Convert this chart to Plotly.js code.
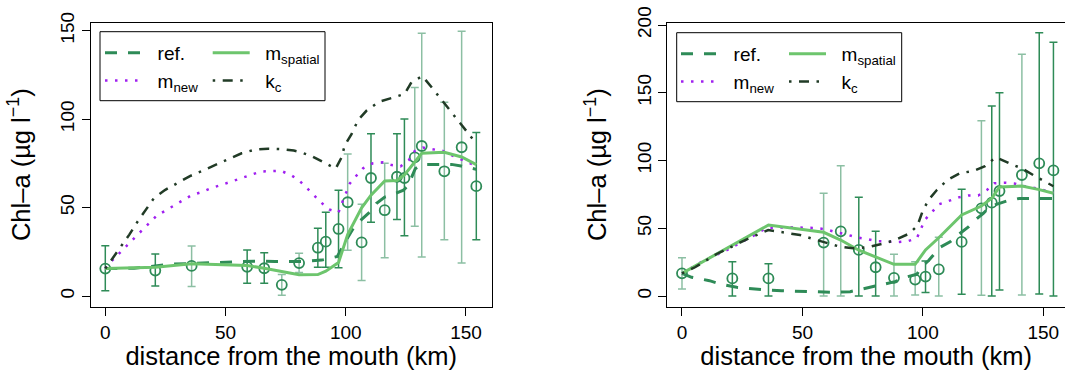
<!DOCTYPE html>
<html><head><meta charset="utf-8">
<script src="https://cdn.plot.ly/plotly-3.0.1.min.js"></script>
<style>html,body{margin:0;padding:0;background:#fff}#chart{width:1065px;height:370px}</style>
</head><body><div id="chart"></div>
<script>
// ---------- Panel A (left) observations ----------
const obsKmA = [0, 20.8, 35.9, 59.0, 66.1, 73.4, 80.6, 88.4, 91.7, 97.0, 100.8, 106.6, 110.5, 116.2, 121.3, 124.4, 128.7, 131.6, 141.0, 148.2, 154.3];
const obsA   = [15.5, 14.4, 17.0, 16.5, 15.7, 6.3, 18.6, 27.3, 30.7, 37.9, 53.0, 30.3, 66.7, 48.5, 67.4, 66.7, 78.4, 84.8, 70.5, 84.1, 62.1];
const obsHiA = [28.4, 23.7, 28.2, 26.0, 24.4, 12.1, 24.2, 38.3, 47.4, 59.8, 80.3, 51.9, 91.7, 75.0, 91.7, 100.0, 117.8, 148.5, 109.5, 149.6, 92.4];
const obsLoA = [3.0, 5.7, 5.3, 7.2, 7.2, 0.4, 13.3, 16.3, 16.3, 15.9, 25.8, 8.7, 41.7, 21.6, 43.2, 34.1, 39.4, 22.0, 31.8, 18.6, 31.8];
const darkIdxA = [0, 1, 3, 4, 7, 8, 9, 12, 14, 15, 20];

// Panel A model lines
const refKmA = [0, 12, 27.6, 44, 52.5, 62, 70.5, 77.4, 82, 90, 96.5, 100.3, 103.8, 110.4, 112.7, 116.2, 119, 124, 126, 128.9, 131.7, 137, 144, 148, 154.3];
const refA   = [15.5, 15.7, 18, 18.9, 19.5, 19.7, 19.5, 19.5, 19.5, 20.3, 22.3, 31.8, 39.8, 47.9, 52.3, 55.9, 57, 59.8, 62.5, 72, 74.4, 74.4, 74.4, 73.5, 71.6];
const mspKmA = [0, 20.8, 35.9, 59.0, 66.1, 73.4, 80.6, 88.4, 91.7, 97.0, 100.8, 106.6, 110.5, 116.2, 121.3, 124.4, 128.7, 131.6, 141.0, 148.2, 154.3];
const mspA   = [15.5, 16.3, 18.2, 17.2, 15.7, 13.8, 12.0, 12.1, 14.0, 18.9, 34.7, 49.8, 57.0, 65.0, 65.3, 68.5, 75.8, 80.7, 81.3, 78.6, 74.3];
const mnewKmA = [0, 2.6, 8.9, 12, 15.1, 17.9, 21.4, 24.8, 28.5, 32, 35.9, 40, 44, 48.1, 52.2, 56.2, 60.4, 64.5, 68.8, 73, 77.4, 80.6, 83.7, 86.7, 89.9, 93.1, 97, 98.5, 101.7, 104.4, 107.2, 111.3, 115.2, 119.2, 122.8, 126.3, 128.7, 132.1, 136.3, 140.4, 144.6, 148.7, 152.6, 154.3];
const mnewA   = [15.5, 19.7, 28.4, 32.6, 36.7, 40.9, 45.5, 48.1, 51.1, 54.2, 57, 58.7, 61, 62.7, 64.6, 66.5, 68.2, 70.3, 70.6, 70.8, 68.2, 65.3, 61.2, 57, 52.7, 48.9, 47.3, 52.8, 63.6, 68, 72.2, 75, 75.6, 74, 73.3, 76.9, 82, 83.9, 83, 82, 79.2, 76.9, 74.4, 73.5];
const kcKmA = [0, 2.6, 6.8, 10, 13.4, 16.8, 20.1, 24.8, 29.7, 35.2, 40.7, 46.3, 51.1, 56.7, 62.5, 67.7, 74, 78.4, 80.9, 85.7, 90.6, 95.8, 98.2, 99.6, 102.4, 105.1, 108.6, 113.8, 119, 124.5, 127.3, 131.9, 136.3, 139.3, 143.2, 146.7, 150.1, 154.3];
const kcA   = [15.5, 20.5, 28.8, 34.7, 42, 48.9, 55.1, 59.9, 63.5, 67.8, 71, 74.6, 77.3, 80.7, 82.8, 83.3, 83, 82.2, 81.4, 79.2, 75.8, 72, 78.2, 85.2, 91.5, 99.4, 104.7, 109.8, 111.9, 114.2, 120.8, 124.3, 117, 111.8, 105.7, 99, 93.4, 86.2];

// ---------- Panel B (right) observations ----------
const obsKmB = [0, 20.9, 35.9, 58.8, 65.9, 73.4, 80.4, 88.0, 96.8, 101.1, 106.6, 116.1, 124.3, 128.6, 131.8, 141.1, 148.3, 154.2];
const obsB   = [16.7, 13.0, 13.0, 39.4, 47.7, 34.0, 21.2, 13.4, 12.1, 14.3, 19.7, 39.9, 64.7, 68.9, 77.5, 89.3, 97.9, 92.7];
const obsHiB = [28.3, 25.3, 23.8, 75.8, 96.2, 72.8, 47.7, 30.8, 25.3, 25.8, 43.3, 78.7, 129.4, 140.2, 150.0, 178.4, 194.3, 187.2];
const obsLoB = [5.2, 0, 0, 0, 0, 0, 0, 0, 0.7, 2.5, 0, 1.2, 0.5, 0, 4.4, 0.7, 1.5, 0];
const darkIdxB = [1, 2, 5, 6, 9, 11, 13, 14, 16, 17];

// Panel B model lines
const refKmB = [0, 4, 11.4, 15.8, 22.7, 28.9, 35.8, 41.4, 48.3, 50.4, 57.3, 62.8, 69.8, 74.6, 79.5, 83.5, 88.4, 92.6, 97.5, 99.5, 102.3, 105, 107.1, 111.3, 114, 118.9, 121.7, 125.1, 127.9, 131.8, 134.8, 140, 146, 154.2];
const refB   = [16.7, 13.8, 11.3, 8.9, 6.4, 5.2, 4.4, 3.9, 3.5, 3.2, 2.7, 2.7, 3.2, 4.9, 6.9, 8.6, 10.6, 13.8, 16, 21.6, 26, 31.5, 35.9, 40, 44.3, 51, 56, 61, 65.9, 68.4, 70.1, 72, 72, 72];
const mspKmB = [0, 20.9, 35.9, 58.8, 65.9, 73.4, 80.4, 88.0, 96.8, 101.1, 106.6, 116.1, 124.3, 128.6, 131.8, 141.1, 148.3, 154.2];
const mspB   = [16.7, 37.4, 52.4, 47.0, 41.3, 33.8, 28.8, 23.4, 23.4, 34.0, 43.0, 59.8, 66.4, 72.1, 80.5, 81.2, 78.5, 75.8];
const mnewKmB = [0, 8.2, 19.2, 31, 35, 38, 46.9, 51, 55.6, 59.7, 63.8, 68, 72.3, 76.7, 80.9, 85, 89.4, 93.6, 97.5, 99.1, 100.9, 103.7, 106.7, 110.7, 114.9, 119, 123, 126.6, 129.7, 133.9, 137.9, 141.1, 148.3, 154.2];
const mnewB   = [16.7, 25.3, 34.4, 45.8, 50.3, 50.5, 50.7, 50.4, 50.2, 49.2, 47.1, 45.6, 43.3, 42, 40.5, 40.2, 39.8, 40.4, 42.6, 49.2, 56.4, 61.8, 67.7, 70.1, 72.8, 74.2, 74.2, 78.2, 83.2, 83.6, 83.0, 81.5, 79.0, 76.0];
const kcKmB = [0, 5.4, 14.4, 26.9, 35.8, 42.8, 49, 54.5, 60.1, 65.6, 71.1, 76.7, 82.9, 88.5, 94, 97.7, 99.8, 102.3, 105.8, 110.2, 115.4, 121, 125.8, 130.3, 136.5, 141.1, 146.2, 151.2, 154.2];
const kcB   = [16.7, 21.2, 31, 41.8, 48.7, 46.7, 45, 42, 39.4, 36.4, 35.2, 35.9, 38.4, 41.3, 45.8, 51.7, 62.2, 70.8, 78.2, 85.6, 90.6, 92.3, 95.9, 102.4, 97.4, 94.2, 88.8, 83.6, 81.0];

const xTicks = [0, 50, 100, 150];
const yTicksA = [0, 50, 100, 150];
const yTicksB = [0, 50, 100, 150, 200];
const seriesNames = {ref: 'ref.', msp: 'm<sub>spatial</sub>', mnew: 'm<sub>new</sub>', kc: 'k<sub>c</sub>'};

// ---------- styling ----------
const FONT = 'Liberation Sans, Arial, Helvetica, sans-serif';
const C_OBS = '#2E8B57', C_OBS_LIGHT = 'rgba(46,139,87,0.55)';
const C_REF = '#2E8B57', C_MSP = '#6DC56D', C_MNEW = '#A020F0', C_KC = '#213B26';
const PAD = '\u00a0\u00a0';

function pick(arr, idx, keep) { return arr.filter((_, i) => idx.includes(i) === keep); }

function obsTraces(km, y, hi, lo, darkIdx, xa, ya) {
  const out = [];
  [true, false].forEach(isDark => {
    const xs = pick(km, darkIdx, isDark), ys = pick(y, darkIdx, isDark);
    const hs = pick(hi, darkIdx, isDark), ls = pick(lo, darkIdx, isDark);
    out.push({
      x: xs, y: ys, xaxis: xa, yaxis: ya, type: 'scatter', mode: 'markers', showlegend: false,
      hoverinfo: 'skip',
      marker: {symbol: 'circle-open', size: 10, color: C_OBS, line: {width: 1.8}},
      error_y: {type: 'data', symmetric: false,
        array: hs.map((h, i) => h - ys[i]), arrayminus: ls.map((l, i) => ys[i] - l),
        color: isDark ? C_OBS : C_OBS_LIGHT, thickness: 1.5, width: 4}
    });
  });
  return out;
}

function lineTrace(x, y, name, color, width, dash, xa, ya, legend) {
  return {x, y, xaxis: xa, yaxis: ya, type: 'scatter', mode: 'lines', name,
    legend, line: {color, width, dash}, hoverinfo: 'skip'};
}

const DASH_REF = '12px,11px', DASH_DOT = '2.5px,7.5px', DASH_DD = '2.5px,7.5px,10px,7.5px';

const data = [
  ...obsTraces(obsKmA, obsA, obsHiA, obsLoA, darkIdxA, 'x', 'y'),
  ...obsTraces(obsKmB, obsB, obsHiB, obsLoB, darkIdxB, 'x2', 'y2'),
  lineTrace(refKmA, refA, PAD + seriesNames.ref, C_REF, 3, DASH_REF, 'x', 'y', 'legend'),
  lineTrace(mnewKmA, mnewA, PAD + seriesNames.mnew, C_MNEW, 2.5, DASH_DOT, 'x', 'y', 'legend'),
  lineTrace(mspKmA, mspA, PAD + seriesNames.msp, C_MSP, 3, 'solid', 'x', 'y', 'legend2'),
  lineTrace(kcKmA, kcA, PAD + seriesNames.kc, C_KC, 2.5, DASH_DD, 'x', 'y', 'legend2'),
  lineTrace(refKmB, refB, PAD + seriesNames.ref, C_REF, 3, DASH_REF, 'x2', 'y2', 'legend3'),
  lineTrace(mnewKmB, mnewB, PAD + seriesNames.mnew, C_MNEW, 2.5, DASH_DOT, 'x2', 'y2', 'legend3'),
  lineTrace(mspKmB, mspB, PAD + seriesNames.msp, C_MSP, 3, 'solid', 'x2', 'y2', 'legend4'),
  lineTrace(kcKmB, kcB, PAD + seriesNames.kc, C_KC, 2.5, DASH_DD, 'x2', 'y2', 'legend4')
];

const W = 1065, H = 370;
const px = v => v / W, py = v => 1 - v / H;

function xAxis(domain, range) {
  return {domain, range, tickvals: xTicks, ticks: 'outside', ticklen: 8, tickwidth: 1, tickcolor: '#000',
    showline: true, mirror: true, linecolor: '#000', linewidth: 1, showgrid: false, zeroline: false,
    tickfont: {size: 19, color: '#000', family: FONT},
    title: {text: 'distance from the mouth (km)', font: {size: 25.5, color: '#000', family: FONT}}};
}
function yAxis(domain, range, tv) {
  return {domain, range, tickvals: tv, ticks: 'outside', ticklen: 8, tickwidth: 1, tickcolor: '#000', tickangle: -90,
    showline: true, mirror: true, linecolor: '#000', linewidth: 1, showgrid: false, zeroline: false,
    tickfont: {size: 19, color: '#000', family: FONT},
    title: {text: 'Chl\u2013a (\u00b5g l<sup>\u22121</sup>)', font: {size: 25.5, color: '#000', family: FONT}}};
}
function legendAt(xpx, ypx) {
  return {x: px(xpx), y: py(ypx), xanchor: 'left', yanchor: 'top', orientation: 'v',
    bgcolor: 'rgba(0,0,0,0)', borderwidth: 0, itemwidth: 37, tracegroupgap: 0,
    font: {size: 19, color: '#000', family: FONT}};
}
const yDom = [py(306.7), py(22.7)];

const layout = {
  width: W, height: H, margin: {l: 0, r: 0, t: 0, b: 0},
  paper_bgcolor: '#fff', plot_bgcolor: '#fff', font: {family: FONT, color: '#000'},
  xaxis: xAxis([px(90.7), px(491.7)], [-6.07, 160.7]),
  yaxis: yAxis(yDom, [-6.05, 154.5], yTicksA),
  xaxis2: Object.assign(xAxis([px(667.3), 1], [-6.1, 159.0]), {anchor: 'y2'}),
  yaxis2: Object.assign(yAxis(yDom, [-7.9, 201.7], yTicksB), {anchor: 'x2'}),
  legend: legendAt(100, 34),
  legend2: legendAt(207.7, 34),
  legend3: legendAt(676, 35),
  legend4: legendAt(784, 35),
  shapes: [
    {type: 'rect', xref: 'paper', yref: 'paper', x0: px(100), x1: px(325), y0: py(100.7), y1: py(31.7), line: {color: '#000', width: 1}},
    {type: 'rect', xref: 'paper', yref: 'paper', x0: px(676.7), x1: px(901.7), y0: py(101.7), y1: py(32.7), line: {color: '#000', width: 1}}
  ]
};
layout.xaxis.anchor = 'y';
layout.yaxis.anchor = 'x';

Plotly.newPlot('chart', data, layout, {displayModeBar: false, staticPlot: true});
</script></body></html>
